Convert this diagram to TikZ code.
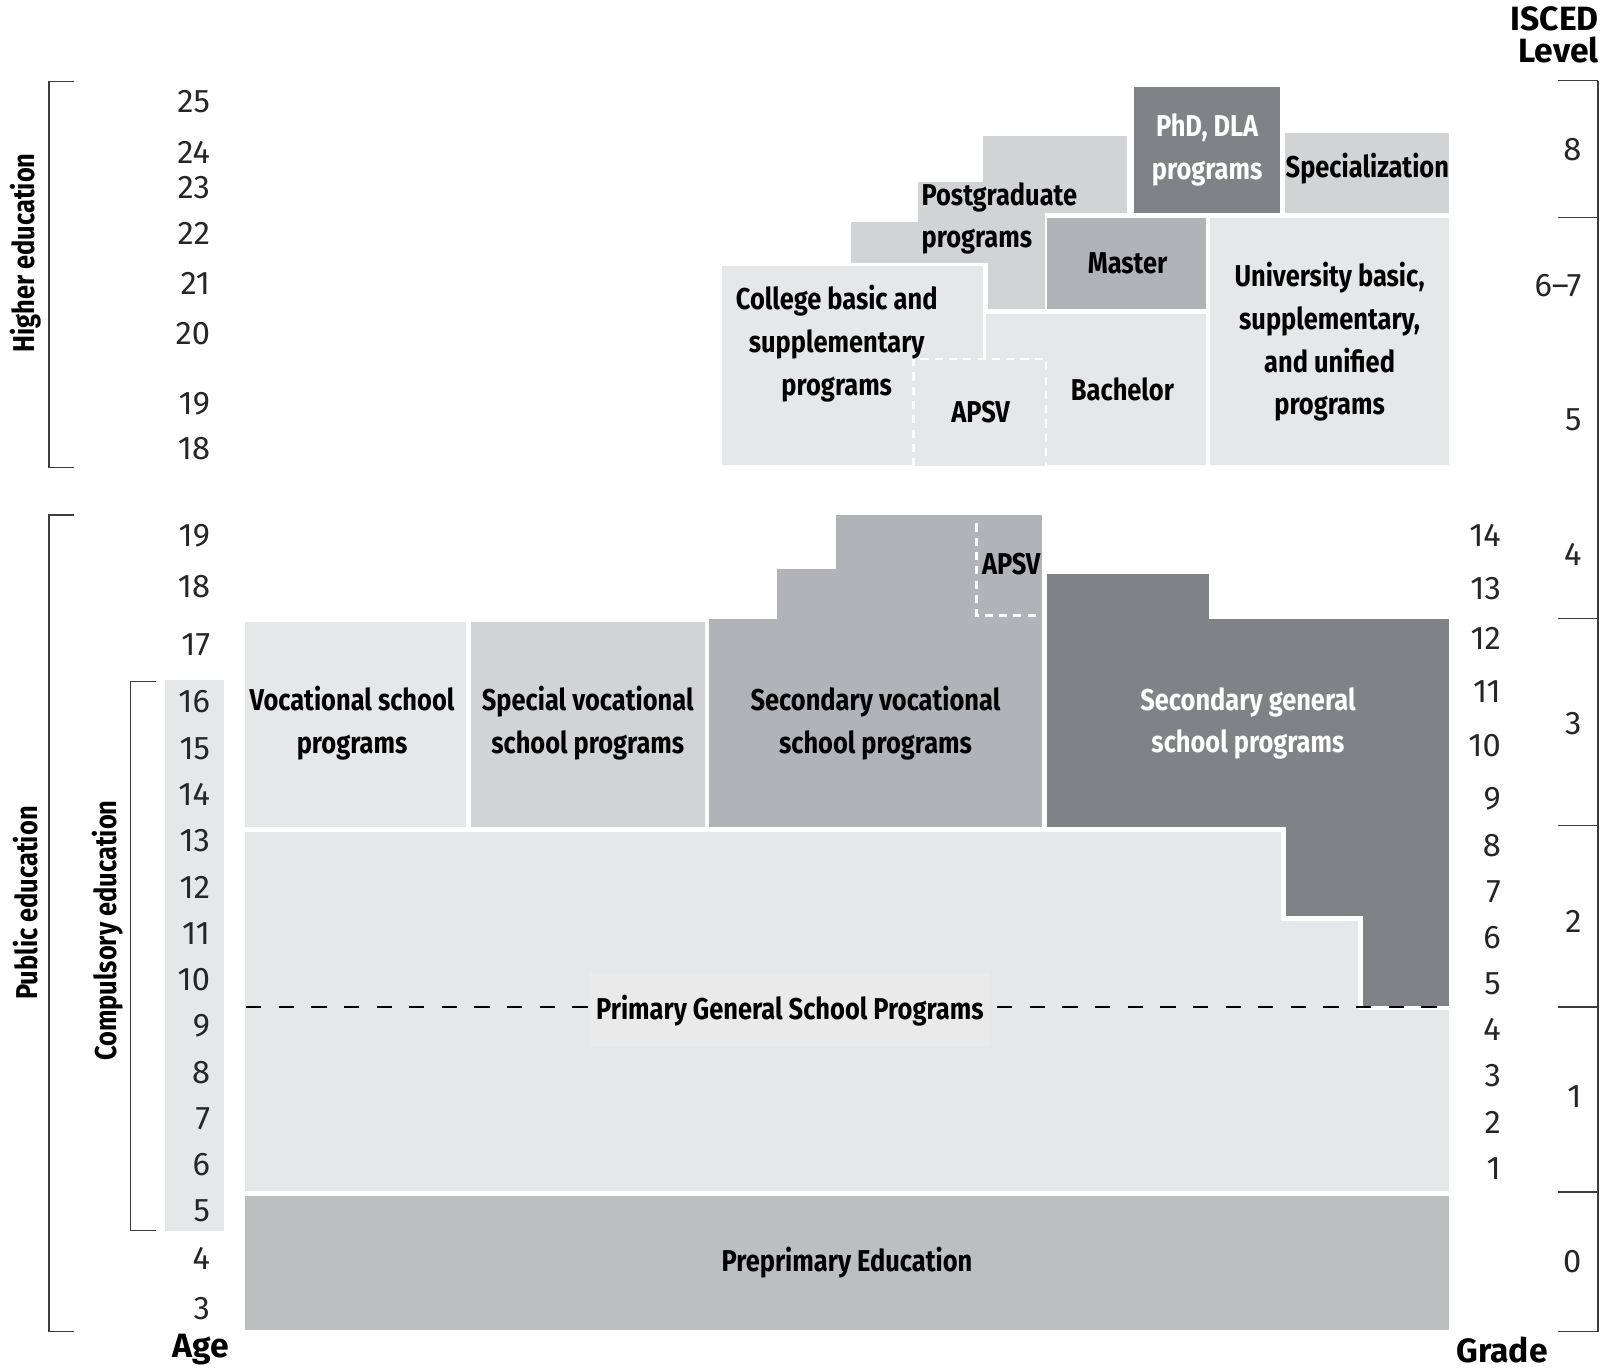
\documentclass[tikz,border=0pt]{standalone}
\usepackage{fontspec}
\setmainfont{Fira Sans}
\newfontfamily\condf[FakeStretch=0.845]{Fira Sans}
\newfontfamily\numf{Fira Sans}
\definecolor{cA}{HTML}{E6E7E8}
\definecolor{cAl}{HTML}{EAEAEB}
\definecolor{cB}{HTML}{D1D3D4}
\definecolor{cC}{HTML}{B1B3B6}
\definecolor{cD}{HTML}{BCBEC0}
\definecolor{cE}{HTML}{808285}
\definecolor{brk}{HTML}{3C3C3C}
\begin{document}
\begin{tikzpicture}[x=1pt,y=-1pt,
  box/.style={draw=white,line width=2.5pt},
  lbl/.style={font=\condf\bfseries\fontsize{29.5}{42}\selectfont,align=center,inner sep=0pt},
  num/.style={font=\numf\fontsize{32}{32}\selectfont,inner sep=0pt,anchor=east,text=black!85},
  brkline/.style={draw=brk,line width=1.6pt},
  side/.style={font=\condf\bfseries\fontsize{29.5}{30}\selectfont,rotate=90,inner sep=0pt},
  head/.style={font=\numf\bfseries\fontsize{33}{33}\selectfont,inner sep=0pt}
]
\useasboundingbox (0,0) rectangle (1568,1341);

% ---------- Higher education boxes ----------
\fill[cB,box] (833,259) -- (833,216) -- (898,216) -- (898,177) -- (962,177) -- (962,132)
  -- (1106,132) -- (1106,210) -- (1025,210) -- (1025,304) -- (967,304) -- (967,259) -- cycle;
\fill[cE,box] (1110,84) rectangle (1256,210);
\fill[cB,box] (1258,129) rectangle (1421,210);
\fill[cA,box] (1185,212) rectangle (1421,457);
\fill[cC,box] (1025,212) rectangle (1183,304);
\fill[cA,box] (965,306) rectangle (1183,457);
\fill[cA,box] (706,259) rectangle (965,457);
\fill[cA] (895,352) rectangle (1025,457);
\draw[white,line width=2.5pt,dash pattern=on 8pt off 6pt] (895,457) -- (895,352) -- (1025,352) -- (1025,457);

\node[lbl,text=white] (phd) at (1183,147) {PhD, DLA\\programs};
\node[lbl] (spec) at (1340,165) {Specialization};
\node[lbl,align=left,anchor=west] (post) at (903,214) {Postgraduate\\programs};
\node[lbl] (master) at (1105,258) {Master};
\node[lbl] (college) at (820,337) {College basic and\\supplementary\\programs};
\node[lbl] (apsv1) at (961,404) {APSV};
\node[lbl] (bach) at (1100,382) {Bachelor};
\node[lbl] (univ) at (1303,335) {University basic,\\supplementary,\\and unified\\programs};

% ---------- Public education boxes ----------
\fill[cA] (162,666) rectangle (220,1206);
\fill[cA,box] (239,608) rectangle (458,812);
\fill[cB,box] (460,608) rectangle (692,812);
\fill[cC,box] (694,812) -- (694,605) -- (760,605) -- (760,556) -- (818,556) -- (818,503)
  -- (1022,503) -- (1022,812) -- cycle;
\fill[cE,box] (1025,812) -- (1025,561) -- (1186,561) -- (1186,605) -- (1421,605) -- (1421,987)
  -- (1334,987) -- (1334,899) -- (1259,899) -- (1259,812) -- cycle;
\fill[cA,box] (239,814) -- (1257,814) -- (1257,901) -- (1332,901) -- (1332,989) -- (1421,989)
  -- (1421,1168) -- (239,1168) -- cycle;
\fill[cD,box] (239,1171) rectangle (1421,1305);
\draw[white,line width=2.5pt,dash pattern=on 8pt off 6pt] (957,513) -- (957,603) -- (1022,603);

\coordinate (dl) at (241,987);
\coordinate (dr) at (1421,987);
\draw[black,line width=2.5pt,dash pattern=on 15pt off 17pt] (dl) -- (dr);

\node[lbl] (voc) at (345,709) {Vocational school\\programs};
\node[lbl] (svoc) at (576,709) {Special vocational\\school programs};
\node[lbl] (secv) at (858,709) {Secondary vocational\\school programs};
\node[lbl,text=white] (secg) at (1223,709) {Secondary general\\school programs};
\node[lbl] (apsv2) at (991,553) {APSV};
\node[lbl,fill=cAl,minimum height=72pt,inner xsep=6pt] (prim) at (774,990) {Primary General School Programs};
\node[lbl] (pre) at (830,1237) {Preprimary Education};

% ---------- Brackets and side labels ----------
\draw[brkline] (73,80) -- (48,80) -- (48,458) -- (73,458);
\draw[brkline] (73,505) -- (48,505) -- (48,1305) -- (73,1305);
\draw[brkline] (153,668) -- (128,668) -- (128,1206) -- (153,1206);
\node[side] (he) at (25,248) {Higher education};
\node[side] (pe) at (25,885) {Public education};
\node[side] (ce) at (105,912) {Compulsory education};

% ---------- Age numbers ----------
\foreach \a/\y in {25/100,24/149,23/184,22/229,21/278,20/327,19/396,18/440}
  \node[num] (ha\a) at (206,\y) {\a};
\foreach \a/\y in {19/525,18/575,17/632,16/688,15/734,14/779,13/824,12/870,11/915,10/960,
  9/1005,8/1051,7/1096,6/1141,5/1187,4/1233,3/1282}
  \node[num] (pa\a) at (206,\y) {\a};
\node[head] (age) at (197,1323) {Age};

% ---------- Grades ----------
\foreach \g/\y in {14/525,13/577,12/626,11/678,10/731,9/783,8/829,7/874,6/919,5/964,
  4/1009,3/1054,2/1100,1/1145}
  \node[num] (gr\g) at (1471,\y) {\g};
\node[head] (grade) at (1472,1323) {Grade};

% ---------- ISCED ----------
\draw[brkline] (1566,79) -- (1566,1305);
\foreach \y in {79,213,606,809,987,1168,1305}
  \draw[brkline] (1527,\y) -- (1566,\y);
\foreach \l/\y [count=\i] in {8/147,5/411,4/543,3/709,2/903,1/1075,0/1236}
  \node[num] (isc\i) at (1550,\y) {\l};
\node[num] (isc67) at (1550,280) {6\textendash 7};
\node[head,align=right,anchor=north east,font=\numf\bfseries\fontsize{33}{32}\selectfont] (isced) at (1567,6) {ISCED\\Level};
\end{tikzpicture}
\end{document}
